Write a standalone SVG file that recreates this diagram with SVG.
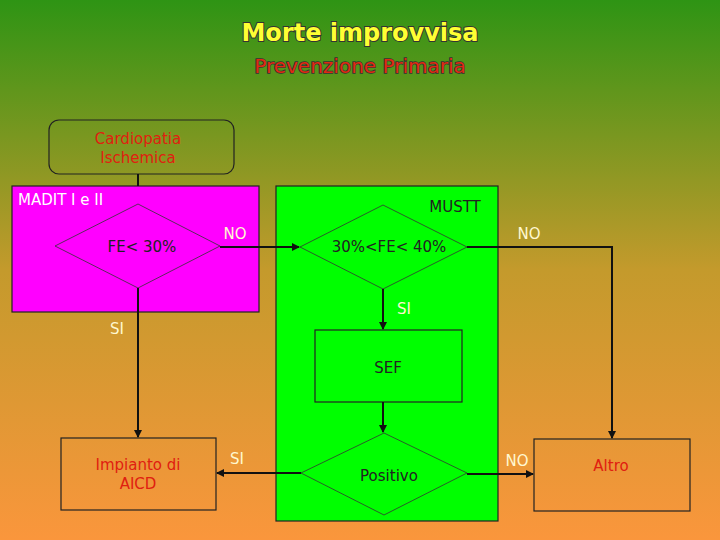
<svg xmlns="http://www.w3.org/2000/svg" width="720" height="540" viewBox="0 0 720 540">
<defs>
<linearGradient id="bg" x1="0" y1="0" x2="0" y2="1">
<stop offset="0" stop-color="#2e9414"/>
<stop offset="0.5" stop-color="#c49a2c"/>
<stop offset="1" stop-color="#fa963c"/>
</linearGradient>
<marker id="ar" markerWidth="8" markerHeight="8" refX="7" refY="4" orient="auto" markerUnits="userSpaceOnUse"><path d="M0,0 L8,4 L0,8 z" fill="#111"/></marker>
<style>
text{font-family:"DejaVu Sans","Liberation Sans",sans-serif;font-size:15px;text-anchor:middle}
.t1{font-size:24px;font-weight:bold;stroke:#333;stroke-width:2;paint-order:stroke}
.t2{font-size:20px;stroke:#333;stroke-width:1.5;paint-order:stroke}
.box{stroke:#222;stroke-width:1.2}
.dia{fill:none;stroke:#333;stroke-width:0.8}
.lbl{fill:#fff8d0}
.red{fill:#e02010}
.con{fill:none;stroke:#111;stroke-width:2}
</style>
</defs>
<rect width="720" height="540" fill="url(#bg)"/>
<text x="360" y="41" class="t1" fill="#ffff33">Morte improvvisa</text>
<text x="360" y="73" class="t2" fill="#e02a10">Prevenzione Primaria</text>
<g id="cardio"><rect x="49" y="120" width="185" height="54" rx="10" fill="none" class="box"/>
<text x="138" y="144" class="red">Cardiopatia</text><text x="138" y="163" class="red">Ischemica</text></g>
<g id="madit"><rect x="12" y="186" width="247" height="126" fill="#ff00ff" class="box"/>
<text x="18" y="205" style="text-anchor:start" fill="#fff">MADIT I e II</text>
<path d="M55,246 L138,204 L220,246 L138,288 z" class="dia"/>
<text x="142" y="252" fill="#222">FE&lt; 30%</text></g>
<g id="mustt"><rect x="276" y="186" width="222" height="335" fill="#00ff00" class="box"/>
<text x="455" y="212" fill="#222">MUSTT</text>
<path d="M300,247 L383,205 L467,247 L383,289 z" class="dia"/>
<text x="389" y="252" fill="#222">30%&lt;FE&lt; 40%</text></g>
<g id="sef"><rect x="315" y="330" width="147" height="72" fill="#00ff00" class="box"/>
<text x="388" y="373" fill="#222">SEF</text></g>
<g id="positivo"><path d="M301,473 L384,433 L467,473 L384,515 z" class="dia"/>
<text x="389" y="481" fill="#222">Positivo</text></g>
<g id="aicd"><rect x="61" y="438" width="155" height="72" fill="none" class="box"/>
<text x="138" y="470" class="red">Impianto di</text><text x="138" y="489" class="red">AICD</text></g>
<g id="altro"><rect x="534" y="439" width="156" height="72" fill="none" class="box"/>
<text x="611" y="471" class="red">Altro</text></g>
<g id="connectors">
<path d="M138,174 V186" class="con"/>
<path d="M220,247 H299" class="con" marker-end="url(#ar)"/>
<path d="M467,247 H612 V438" class="con" marker-end="url(#ar)"/>
<path d="M383,289 V329" class="con" marker-end="url(#ar)"/>
<path d="M138,288 V437" class="con" marker-end="url(#ar)"/>
<path d="M383,402 V432" class="con" marker-end="url(#ar)"/>
<path d="M301,473 H217" class="con" marker-end="url(#ar)"/>
<path d="M467,474 H533" class="con" marker-end="url(#ar)"/>
<text x="235" y="239" class="lbl">NO</text>
<text x="529" y="239" class="lbl">NO</text>
<text x="404" y="314" class="lbl">SI</text>
<text x="117" y="334" class="lbl">SI</text>
<text x="237" y="464" class="lbl">SI</text>
<text x="517" y="466" class="lbl">NO</text>
</g>
</svg>
